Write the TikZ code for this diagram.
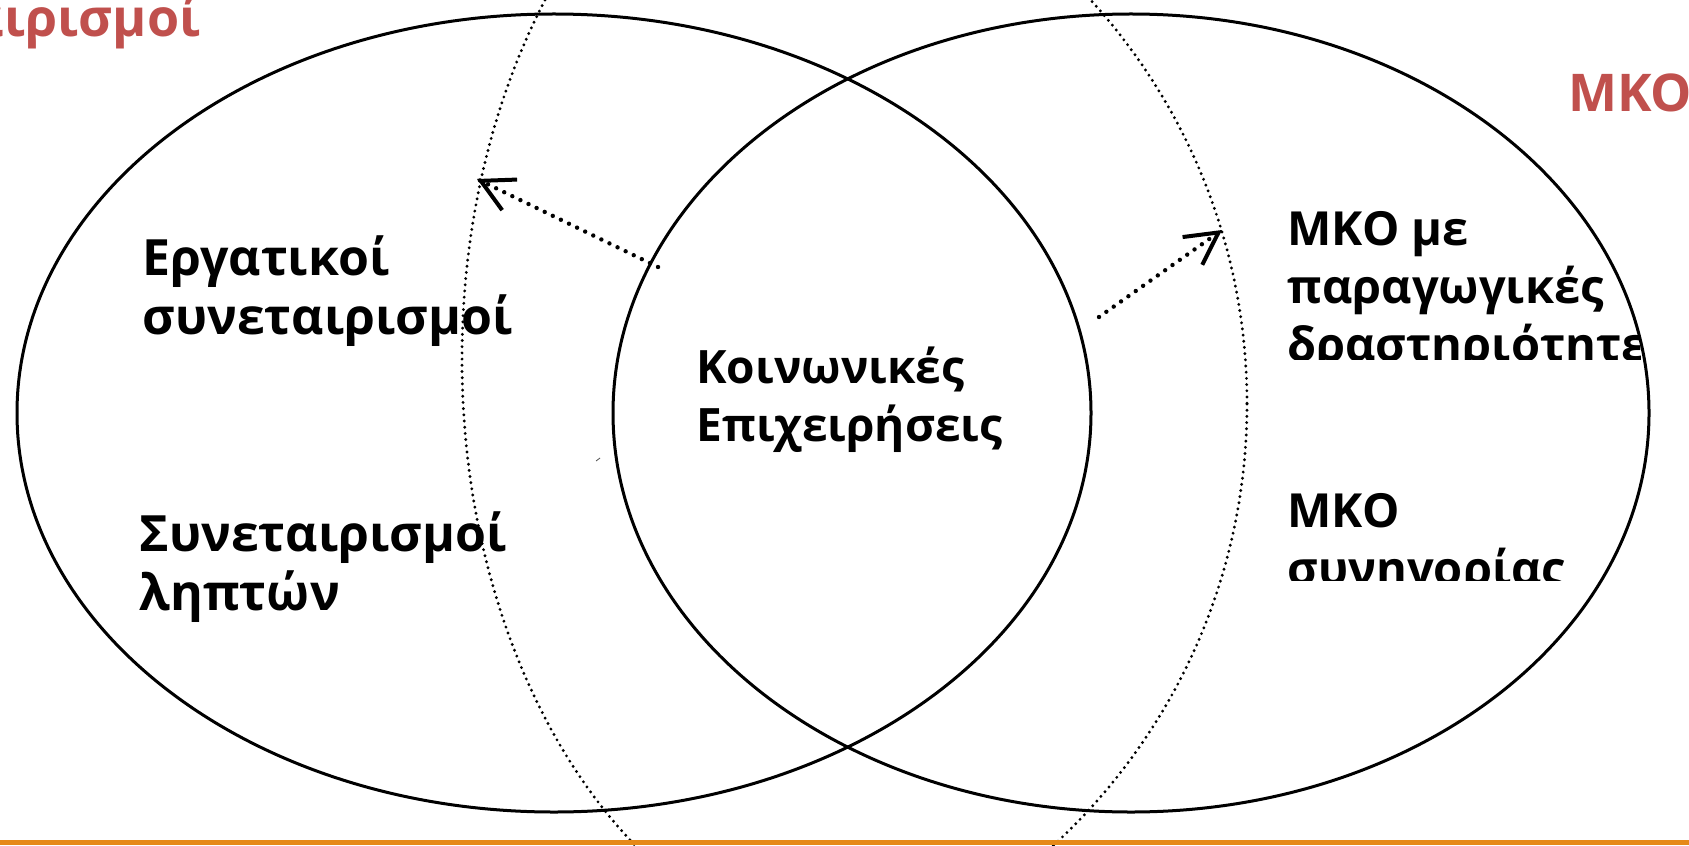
\documentclass[tikz,border=0pt]{standalone}
\usepackage{fontspec}
\setmainfont{Open Sans}
\usetikzlibrary{arrows.meta,calc}
\definecolor{titlered}{RGB}{192,80,77}
\definecolor{barorange}{RGB}{230,137,23}
\begin{document}
\begin{tikzpicture}[x=0.5pt,y=-0.5pt,
  lbl/.style={anchor=base west, inner sep=0pt, font=\fontsize{23.5pt}{28.75pt}\selectfont\bfseries},
  lbll/.style={lbl, font=\fontsize{25pt}{29.5pt}\selectfont\bfseries},
  lblc/.style={lbl, font=\fontsize{23pt}{28.5pt}\selectfont\bfseries},
  ttl/.style={lbl, text=titlered, font=\fontsize{26pt}{30pt}\selectfont\bfseries},
  venn/.style={draw=black, line width=1.5pt},
  bigdots/.style={line width=1.6pt, line cap=round, dash pattern=on 0pt off 3.1pt},
  arrdots/.style={line width=2.2pt, line cap=round, dash pattern=on 0pt off 4.5pt},
  barb/.style={-{Straight Barb[length=16pt,width=17pt,line width=2pt]}},
  ]
\useasboundingbox (0,0) rectangle (1689,845);
\begin{scope}
\clip (0,0) rectangle (1689,845);
% main ellipses
\draw[venn] (554,413) ellipse [x radius=537, y radius=399];
\draw[venn] (1131,413) ellipse [x radius=518, y radius=399];
% dotted arcs of outer shapes
\begin{scope}
\clip (0,0) rectangle (800,845);
\draw[bigdots] (880,359) ellipse [x radius=418, y radius=600];
\end{scope}
\begin{scope}
\clip (1000,0) rectangle (1689,845);
\draw[bigdots] (647,404) circle [radius=600];
\end{scope}
% bottom bar
\fill[barorange] (0,840) rectangle (1689,845);
% titles
\node[ttl, anchor=base east] (tleft) at (201,37) {Συνεταιρισμοί};
\node[ttl] (tright) at (1568,112) {ΜΚΟ};
% left texts
\node[lbll] (l1a) at (142,275) {Εργατικοί};
\node[lbll] (l1b) at (142,334) {συνεταιρισμοί};
\node[lbll] (l2a) at (139,551) {Συνεταιρισμοί};
\node[lbll] (l2b) at (139,610) {ληπτών};
% centre
\node[lblc] (c1) at (696,383) {Κοινωνικές};
\node[lblc] (c2) at (696,441) {Επιχειρήσεις};
% right texts (clipped boxes)
\begin{scope}
\clip (1260,150) rectangle (1640,359);
\node[lbl] (r1a) at (1287,245) {ΜΚΟ με};
\node[lbl] (r1b) at (1287,303) {παραγωγικές};
\node[lbl] (r1c) at (1287,361) {δραστηριότητες};
\end{scope}
\begin{scope}
\clip (1260,450) rectangle (1640,580);
\node[lbl] (r2a) at (1287,527) {ΜΚΟ};
\node[lbl] (r2b) at (1287,585) {συνηγορίας};
\end{scope}
% arrows
\coordinate (ls) at (658,267);
\coordinate (lt) at (477,179);
\coordinate (rs) at (1099,317);
\coordinate (rt) at (1222,230);
\draw[arrdots] (ls) -- (lt);
\draw[barb] ($(lt)!0.01!(ls)$) -- (lt);
\draw[arrdots] (rs) -- (rt);
\draw[barb] ($(rt)!0.01!(rs)$) -- (rt);
% tiny mark
\draw[line width=0.4pt, black!70] (596,461) -- (600,458);
\end{scope}
\end{tikzpicture}
\end{document}
